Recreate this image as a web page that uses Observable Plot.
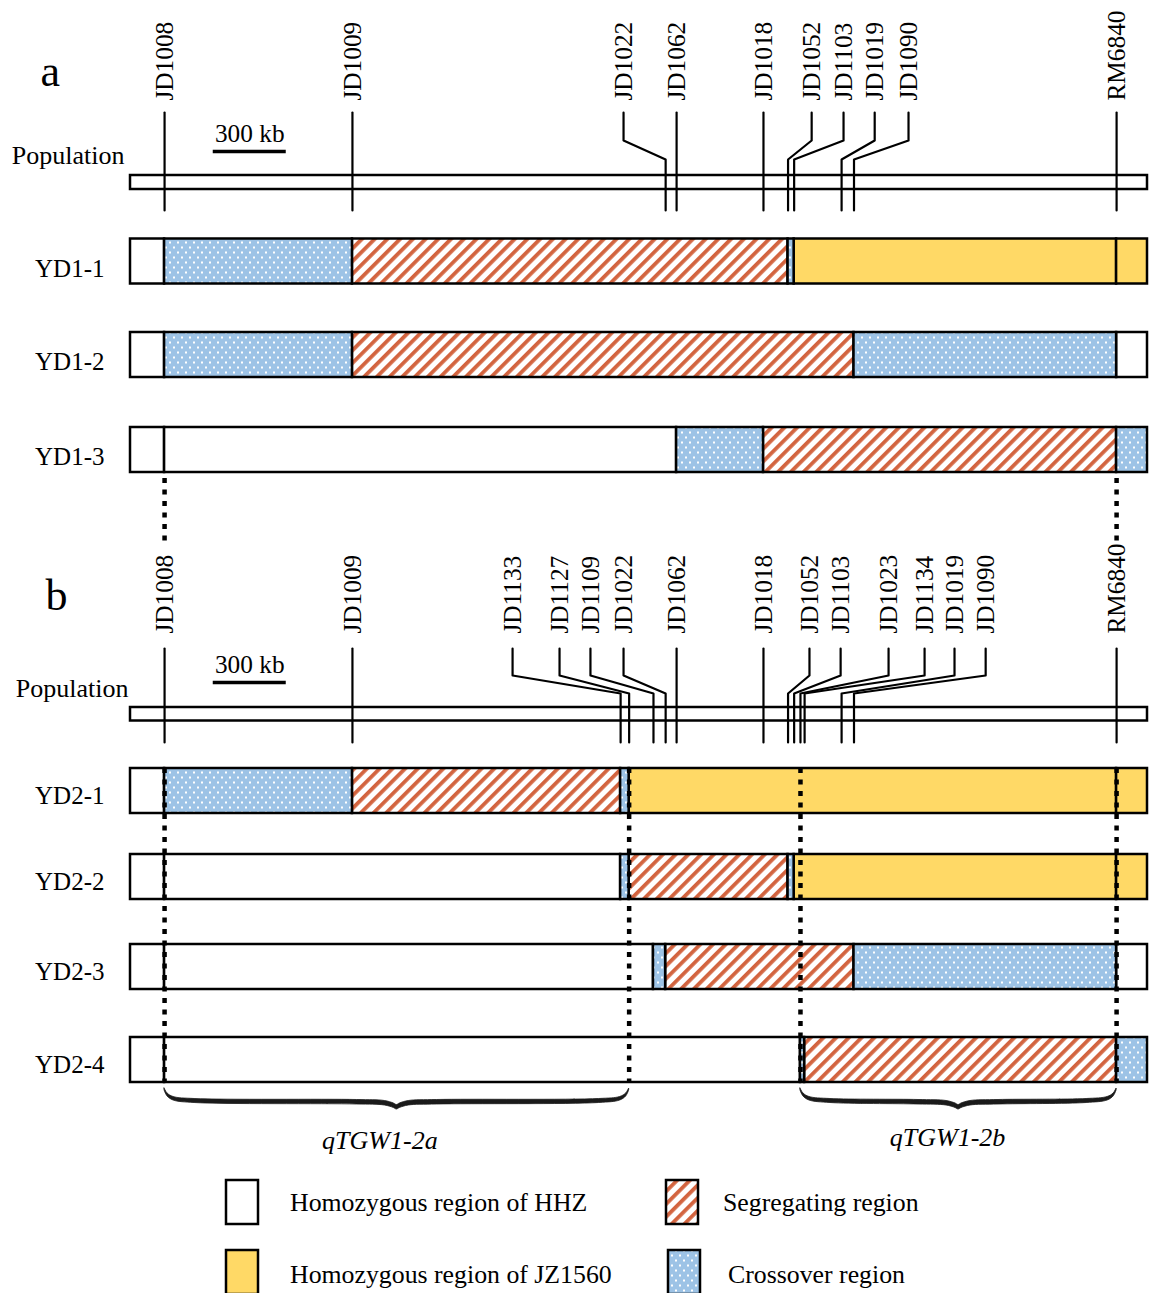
<!DOCTYPE html>
<html><head><meta charset="utf-8">
<script src="https://cdn.jsdelivr.net/npm/d3@7"></script>
<script src="https://cdn.jsdelivr.net/npm/@observablehq/plot@0.6"></script>
<style>
body{margin:0;background:#fff;font-family:"Liberation Serif","Times New Roman",serif;}
#wrap{position:relative;width:1157px;height:1293px;overflow:hidden;background:#fff;}
#legend{position:absolute;left:0;top:1170px;width:1157px;height:123px;overflow:hidden;}
.lg{position:absolute;font-size:25.8px;color:#000;white-space:nowrap;line-height:1;}
.lbox{position:absolute;}
</style></head>
<body>
<svg width="0" height="0" style="position:absolute">
<defs>
<pattern id="hatch" patternUnits="userSpaceOnUse" width="9" height="9" patternTransform="rotate(45)">
<rect width="9" height="9" fill="#fff"/>
<rect width="3.8" height="9" fill="#d3643f"/>
</pattern>
<pattern id="dots" patternUnits="userSpaceOnUse" width="8" height="10">
<rect width="8" height="10" fill="#9dc3e6"/>
<rect x="1" y="1.5" width="2" height="2" fill="#fff"/>
<rect x="5" y="6.5" width="2" height="2" fill="#fff"/>
</pattern>
</defs></svg>
<div id="wrap"><div id="chart"></div><div id="legend"></div></div>
<script>
// ---------------- data ----------------
const markerNames = ["JD1008","JD1009","JD1133","JD1127","JD1109","JD1022","JD1062","JD1018","JD1052","JD1103","JD1023","JD1134","JD1019","JD1090","RM6840"];
const markerKb    = [140, 912, 2014, 2049, 2149, 2199, 2244, 2601, 2702, 2727, 2753, 2770, 2922, 2973, 4052];
// label anchor (kb) in panel a and panel b (null = marker not shown)
const labelKbA    = [140, 912, null, null, null, 2026, 2244, 2601, 2799, 2930, null, null, 3058, 3197, 4052];
const labelKbB    = [140, 912, 1570, 1763, 1890, 2026, 2244, 2601, 2790, 2918, 3115, 3263, 3386, 3514, 4052];
const chromKb = 4179;
const scaleBarKb = [340, 640];
const scaleBarText = "300 kb";

const rowNamesA = ["YD1-1","YD1-2","YD1-3"];
const rowNamesB = ["YD2-1","YD2-2","YD2-3","YD2-4"];
// genotype segments: [from marker, to marker, type]; HHZ = homozygous HHZ, JZ = homozygous JZ1560, S = segregating, X = crossover
const YD1_1 = [["start","JD1008","HHZ"],["JD1008","JD1009","X"],["JD1009","JD1052","S"],["JD1052","JD1103","X"],["JD1103","RM6840","JZ"],["RM6840","end","JZ"]];
const YD1_2 = [["start","JD1008","HHZ"],["JD1008","JD1009","X"],["JD1009","JD1090","S"],["JD1090","RM6840","X"],["RM6840","end","HHZ"]];
const YD1_3 = [["start","JD1008","HHZ"],["JD1008","JD1062","HHZ"],["JD1062","JD1018","X"],["JD1018","RM6840","S"],["RM6840","end","X"]];
const YD2_1 = [["start","JD1008","HHZ"],["JD1008","JD1009","X"],["JD1009","JD1133","S"],["JD1133","JD1127","X"],["JD1127","RM6840","JZ"],["RM6840","end","JZ"]];
const YD2_2 = [["start","JD1008","HHZ"],["JD1008","JD1133","HHZ"],["JD1133","JD1127","X"],["JD1127","JD1052","S"],["JD1052","JD1103","X"],["JD1103","RM6840","JZ"],["RM6840","end","JZ"]];
const YD2_3 = [["start","JD1008","HHZ"],["JD1008","JD1109","HHZ"],["JD1109","JD1022","X"],["JD1022","JD1090","S"],["JD1090","RM6840","X"],["RM6840","end","HHZ"]];
const YD2_4 = [["start","JD1008","HHZ"],["JD1008","JD1023","HHZ"],["JD1023","JD1134","X"],["JD1134","RM6840","S"],["RM6840","end","X"]];
const genoA = [YD1_1, YD1_2, YD1_3];
const genoB = [YD2_1, YD2_2, YD2_3, YD2_4];

const linkMarkers = ["JD1008","RM6840"];                    // dotted links a -> b
const boundaryMarkers = ["JD1008","JD1127","JD1023","RM6840"]; // dotted QTL boundaries in b
const qtlNames = ["qTGW1-2a","qTGW1-2b"];
const qtlFrom  = ["JD1008","JD1023"];
const qtlTo    = ["JD1127","RM6840"];

const legendTypes  = ["HHZ","S","JZ","X"];
const legendLabels = ["Homozygous region of HHZ","Segregating region","Homozygous region of JZ1560","Crossover region"];

// ---------------- styles / layout ----------------
const fills = {HHZ: "#ffffff", JZ: "#ffd966", S: "url(#hatch)", X: "url(#dots)"};
const FONT = "'Liberation Serif','Times New Roman',serif";
const W = 1157, H = 1170;
const kbPerPx = chromKb / (1147 - 130);
const L = {
  a: {pop: [175, 189], top: 112, elbow: 140, kink: 159, bottom: 210, label: 100, scaleY: 151, scaleText: 133,
      popText: 155, popDx: -6, letterDx: -90, letterY: 71, rows: [261, 354.5, 449.5], rowDy: 7, names: rowNamesA, geno: genoA, labels: labelKbA, letter: "a"},
  b: {pop: [707, 720.5], top: 648, elbow: 675, kink: 693, bottom: 742, label: 633, scaleY: 682, scaleText: 664,
      popText: 688, popDx: -2, letterDx: -85, letterY: 595, rows: [790.5, 876.5, 966.5, 1059.5], rowDy: 5, names: rowNamesB, geno: genoB, labels: labelKbB, letter: "b"}
};
const half = 22.5;
const kbOf = m => m === "start" ? 0 : m === "end" ? chromKb : markerKb[markerNames.indexOf(m)];

// ---------------- build tables ----------------
const segs = [], rowLabels = [], conn = [], mlabels = [], pops = [], bars = [], popTexts = [], letters = [];
for (const p of ["a","b"]) {
  const c = L[p];
  pops.push({y1: c.pop[0], y2: c.pop[1]});
  bars.push({y: c.scaleY, t: c.scaleText});
  popTexts.push({y: c.popText, dx: c.popDx});
  letters.push({t: c.letter, y: c.letterY, dx: c.letterDx});
  c.names.forEach((name, r) => {
    rowLabels.push({name, y: c.rows[r] + c.rowDy});
    for (const [f, t, type] of c.geno[r]) segs.push({x1: kbOf(f), x2: kbOf(t), type, y1: c.rows[r] - half, y2: c.rows[r] + half});
  });
  markerNames.forEach((m, i) => {
    const lk = c.labels[i]; if (lk == null) return;
    const mk = markerKb[i], id = p + m;
    mlabels.push({name: m, x: lk, y: c.label});
    if (Math.abs(lk - mk) < 8) conn.push({id, x: mk, y: c.top}, {id, x: mk, y: c.bottom});
    else conn.push({id, x: lk, y: c.top}, {id, x: lk, y: c.elbow}, {id, x: mk, y: c.kink}, {id, x: mk, y: c.bottom});
  });
}
const links = linkMarkers.map(m => ({x: kbOf(m), y1: 478, y2: 546}));
const bounds = boundaryMarkers.map(m => ({x: kbOf(m), y1: 768, y2: 1082}));
// tapered curly braces (outline shape relative to the QTL ends, in px offsets)
const brace = [];
const qtlText = [];
qtlNames.forEach((q, i) => {
  const a = kbOf(qtlFrom[i]), b = kbOf(qtlTo[i]), m = (a + b) / 2, k = kbPerPx;
  const shape = [[a,0,1088,1090],[a,3,1093,1096],[a,9,1096.5,1100],[a,30,1098.5,1102.5],[m,-40,1099.5,1104],[m,-12,1100.5,1105],[m,-3,1103,1107.5],[m,0,1104.5,1109],
                 [m,3,1103,1107.5],[m,12,1100.5,1105],[m,40,1099.5,1104],[b,-30,1098.5,1102.5],[b,-9,1096.5,1100],[b,-3,1093,1096],[b,0,1088,1090]];
  shape.forEach(([base, off, y1, y2]) => brace.push({id: q, x: base + off * k, y1, y2}));
  qtlText.push({t: q, x: m, y: i === 0 ? 1140 : 1137, dx: i === 0 ? -17 : -11});
});

const marks = [
  Plot.rect(pops, {x1: 0, x2: chromKb, y1: "y1", y2: "y2", fill: "#fff", stroke: "#000", strokeWidth: 2.5}),
  Plot.line(conn, {x: "x", y: "y", z: "id", stroke: "#000", strokeWidth: 2.2, curve: "linear"}),
  Plot.text(mlabels, {x: "x", y: "y", text: "name", rotate: -90, textAnchor: "start", lineAnchor: "middle", fontSize: 25.3, fontFamily: FONT, fill: "#000"}),
  Plot.ruleY(bars, {x1: scaleBarKb[0], x2: scaleBarKb[1], y: "y", stroke: "#000", strokeWidth: 3.5}),
  Plot.text(bars, {x: (scaleBarKb[0] + scaleBarKb[1]) / 2, y: "t", text: () => scaleBarText, fontSize: 25.3, fontFamily: FONT, fill: "#000"}),
  Plot.text(popTexts.slice(0,1), {x: 0, y: "y", text: () => "Population", textAnchor: "end", dx: popTexts[0].dx, fontSize: 26, fontFamily: FONT, fill: "#000"}),
  Plot.text(popTexts.slice(1), {x: 0, y: "y", text: () => "Population", textAnchor: "end", dx: popTexts[1].dx, fontSize: 26, fontFamily: FONT, fill: "#000"}),
  Plot.text(letters.slice(0,1), {x: 0, y: "y", text: "t", textAnchor: "start", dx: letters[0].dx, fontSize: 44, fontFamily: FONT, fill: "#000"}),
  Plot.text(letters.slice(1), {x: 0, y: "y", text: "t", textAnchor: "start", dx: letters[1].dx, fontSize: 44, fontFamily: FONT, fill: "#000"}),
  Plot.text(rowLabels, {x: 0, y: "y", text: "name", textAnchor: "end", dx: -26, fontSize: 25, fontFamily: FONT, fill: "#000"}),
  ...Object.keys(fills).map(t => Plot.rect(segs.filter(d => d.type === t), {x1: "x1", x2: "x2", y1: "y1", y2: "y2", fill: fills[t], stroke: "#000", strokeWidth: 2.5})),
  Plot.ruleX(links, {x: "x", y1: "y1", y2: "y2", stroke: "#000", strokeWidth: 4.5, strokeDasharray: "5,6.5"}),
  Plot.ruleX(bounds, {x: "x", y1: "y1", y2: "y2", stroke: "#000", strokeWidth: 4.5, strokeDasharray: "5,6.5"}),
  Plot.areaY(brace, {x: "x", y1: "y1", y2: "y2", z: "id", fill: "#1a1a1a", stroke: "#1a1a1a", strokeWidth: 0.8, curve: "catmull-rom"}),
  Plot.text(qtlText.slice(0,1), {x: "x", y: "y", text: "t", dx: qtlText[0].dx, fontSize: 26, fontStyle: "italic", fontFamily: FONT, fill: "#000"}),
  Plot.text(qtlText.slice(1), {x: "x", y: "y", text: "t", dx: qtlText[1].dx, fontSize: 26, fontStyle: "italic", fontFamily: FONT, fill: "#000"})
];

const chart = Plot.plot({
  width: W, height: H,
  marginLeft: 0, marginRight: 0, marginTop: 0, marginBottom: 0,
  x: {domain: [0, chromKb], range: [130, 1147], axis: null},
  y: {domain: [0, H], range: [0, H], axis: null},
  style: {fontFamily: FONT, background: "#fff", color: "#000", overflow: "visible"},
  marks
});
document.getElementById("chart").appendChild(chart);

// ---------------- legend ----------------
const legendPos = [[226, 10, 290, 34], [666, 10, 723, 34], [226, 80, 290, 106], [668, 80, 728, 106]];
const lg = document.getElementById("legend");
legendTypes.forEach((t, i) => {
  const [bx, by, tx, ty] = legendPos[i];
  const box = document.createElementNS("http://www.w3.org/2000/svg", "svg");
  box.setAttribute("width", 36); box.setAttribute("height", 48);
  box.setAttribute("class", "lbox");
  box.style.left = (bx - 2) + "px"; box.style.top = (by - 2) + "px";
  box.innerHTML = `<rect x="2" y="2" width="32" height="44" fill="${fills[t]}" stroke="#000" stroke-width="2.5"/>`;
  lg.appendChild(box);
  const s = document.createElement("div");
  s.className = "lg"; s.textContent = legendLabels[i];
  s.style.left = tx + "px"; s.style.top = (ty - 14) + "px";
  lg.appendChild(s);
});
</script>
</body></html>
